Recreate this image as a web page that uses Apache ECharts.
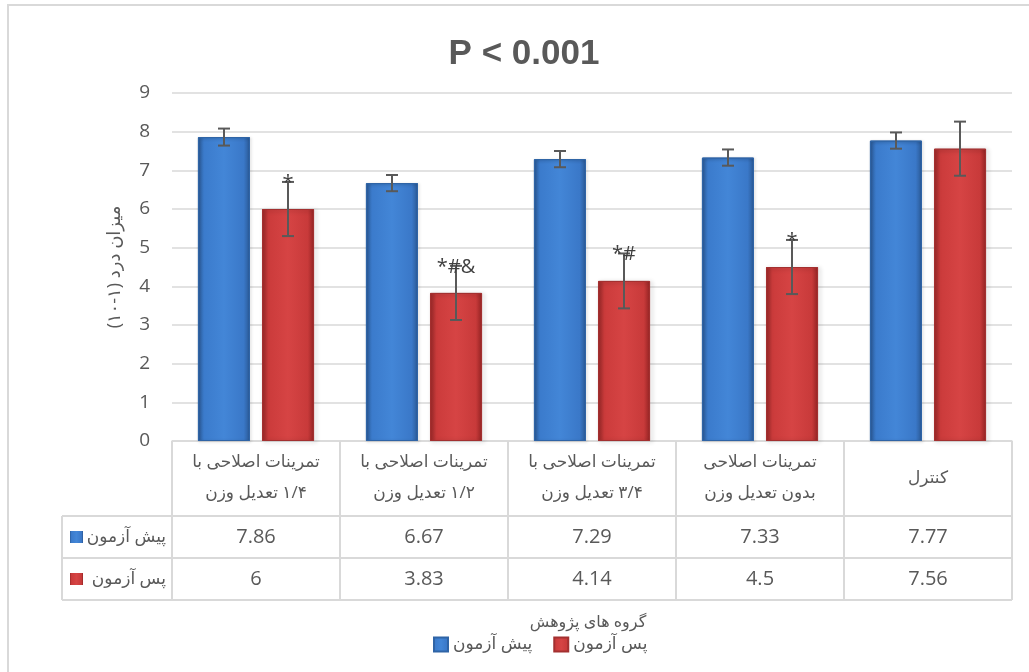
<!DOCTYPE html>
<html>
<head>
<meta charset="utf-8">
<script src="https://cdn.jsdelivr.net/npm/echarts@6/dist/echarts.min.js"></script>
<style>
html,body{margin:0;padding:0;background:#fff;}
#chart{width:1029px;height:672px;}
</style>
</head>
<body>
<div id="chart"></div>
<script>
// ---- data ----
const categories = [
  'تمرینات اصلاحی با\n۱/۴ تعدیل وزن',
  'تمرینات اصلاحی با\n۱/۲ تعدیل وزن',
  'تمرینات اصلاحی با\n۳/۴ تعدیل وزن',
  'تمرینات اصلاحی\nبدون تعدیل وزن',
  'کنترل'
];
const seriesNames = ['پیش آزمون', 'پس آزمون'];
const preValues = [7.86, 6.67, 7.29, 7.33, 7.77];
const postValues = [6, 3.83, 4.14, 4.5, 7.56];
const preErr = [0.22, 0.21, 0.21, 0.21, 0.21];
const postErr = [0.7, 0.7, 0.71, 0.7, 0.7];
const postMarks = ['*', '*#&', '*#', '*', ''];
const yTicks = [0, 1, 2, 3, 4, 5, 6, 7, 8, 9];
const titleText = 'P < 0.001';
const yAxisName = 'میزان درد (۱-۱۰)';
const xAxisName = 'گروه های پژوهش';

// ---- helpers ----
const RLE = '\u202B', PDF = '\u202C';
const rtl = s => s.split('\n').map(l => RLE + l + PDF).join('\n');
const FONT = '"Open Sans", "DejaVu Sans", sans-serif';
const TXT = '#595959';
const GRIDC = '#d9d9d9';

const blueGrad = new echarts.graphic.LinearGradient(0, 0, 1, 0, [
  {offset: 0, color: '#2b5c9a'}, {offset: 0.12, color: '#3b7bcc'},
  {offset: 0.5, color: '#4386d7'}, {offset: 0.88, color: '#3a78c8'},
  {offset: 1, color: '#2a5894'}
]);
const redGrad = new echarts.graphic.LinearGradient(0, 0, 1, 0, [
  {offset: 0, color: '#9a2828'}, {offset: 0.12, color: '#cb3b3b'},
  {offset: 0.5, color: '#d64444'}, {offset: 0.88, color: '#c83a3a'},
  {offset: 1, color: '#952424'}
]);
const OFFSET_FRAC = 0.1905; // bar-center offset as a fraction of the category band

function errRenderer(sign, marks) {
  return function (params, api) {
    const idx = api.value(0);
    const band = api.size([1, 0])[0];
    const cx = api.coord([idx, 0])[0] + sign * band * OFFSET_FRAC;
    const yLo = api.coord([idx, api.value(1)])[1];
    const yHi = api.coord([idx, api.value(2)])[1];
    const half = 6;
    const st = {stroke: '#595959', lineWidth: 2};
    const children = [
      {type: 'line', shape: {x1: cx, y1: yLo, x2: cx, y2: yHi}, style: st},
      {type: 'line', shape: {x1: cx - half, y1: yHi, x2: cx + half, y2: yHi}, style: st},
      {type: 'line', shape: {x1: cx - half, y1: yLo, x2: cx + half, y2: yLo}, style: st}
    ];
    if (marks && marks[idx]) {
      children.push({type: 'text', style: {
        x: cx, y: yHi + 1, text: marks[idx], align: 'center', verticalAlign: 'middle',
        fontSize: 20, fontFamily: FONT, fill: '#404040'
      }});
    }
    return {type: 'group', children: children};
  };
}

const chart = echarts.init(document.getElementById('chart'), null, {renderer: 'canvas'});

chart.setOption({
  animation: false,
  backgroundColor: '#fff',
  grid: {left: 172, right: 17, top: 93, bottom: 231, containLabel: false},
  legend: {
    data: seriesNames,
    left: 428, top: 631,
    itemWidth: 14, itemHeight: 14, itemGap: 21,
    icon: 'rect',
    formatter: n => rtl(n),
    textStyle: {fontSize: 17, color: TXT, fontFamily: FONT}
  },
  xAxis: {
    type: 'category',
    data: categories,
    axisLine: {show: true, lineStyle: {color: GRIDC, width: 1.5}},
    axisTick: {show: false},
    axisLabel: {
      interval: 0, formatter: v => rtl(v), verticalAlign: 'middle', margin: 37,
      lineHeight: 31, fontSize: 17, color: TXT, fontFamily: FONT
    }
  },
  yAxis: {
    type: 'value', min: yTicks[0], max: yTicks[yTicks.length - 1], interval: 1,
    name: rtl(yAxisName), nameLocation: 'middle', nameGap: 48, nameRotate: 90,
    nameTextStyle: {fontSize: 18, color: TXT, fontFamily: FONT},
    axisLine: {show: false}, axisTick: {show: false},
    axisLabel: {fontSize: 19, color: TXT, fontFamily: FONT, margin: 22},
    splitLine: {lineStyle: {color: GRIDC, width: 1.5}}
  },
  series: [
    {
      name: seriesNames[0], type: 'bar', data: preValues,
      barWidth: '31%', barGap: '23%',
      itemStyle: {color: blueGrad, borderColor: '#2f64a6', borderWidth: 1,
        shadowColor: 'rgba(0,0,0,0.25)', shadowBlur: 3, shadowOffsetX: 1, shadowOffsetY: 1}
    },
    {
      name: seriesNames[1], type: 'bar', data: postValues,
      barWidth: '31%', barGap: '23%',
      itemStyle: {color: redGrad, borderColor: '#a33030', borderWidth: 1,
        shadowColor: 'rgba(0,0,0,0.3)', shadowBlur: 4, shadowOffsetX: 2, shadowOffsetY: 1}
    },
    {
      type: 'custom', name: 'errPre', z: 5,
      renderItem: errRenderer(-1, null),
      data: preValues.map((v, i) => [i, v - preErr[i], v + preErr[i]])
    },
    {
      type: 'custom', name: 'errPost', z: 5,
      renderItem: errRenderer(1, postMarks),
      data: postValues.map((v, i) => [i, v - postErr[i], v + postErr[i]])
    }
  ]
});

// ---- data table and decorations (positions derived from the axes) ----
const HEADER_H = 75, ROW_H = 42, LABEL_LEFT = 62;
const c0 = chart.convertToPixel({xAxisIndex: 0}, 0);
const c1 = chart.convertToPixel({xAxisIndex: 0}, 1);
const band = c1 - c0;
const tableTop = chart.convertToPixel({yAxisIndex: 0}, 0);
const leftEdge = c0 - band / 2;
const rightEdge = leftEdge + band * categories.length;
const tableBottom = tableTop + HEADER_H + 2 * ROW_H;
const lineStyle = {stroke: GRIDC, lineWidth: 2};
const g = [];

// outer chart-area frame (left and top edges visible)
g.push({type: 'polyline', shape: {points: [[8, 700], [8, 5], [1100, 5]]}, style: {stroke: GRIDC, lineWidth: 2, fill: null}, silent: true});

// title
g.push({type: 'text', style: {x: 524, y: 54, text: titleText, align: 'center', verticalAlign: 'middle',
  fontSize: 35, fontWeight: 'bold', fontFamily: '"Liberation Sans", Arial, sans-serif', fill: TXT}});

// x axis name
g.push({type: 'text', style: {x: 588, y: 622, text: rtl(xAxisName), align: 'center', verticalAlign: 'middle',
  fontSize: 16, fontFamily: FONT, fill: TXT}});

// vertical lines
for (let k = 0; k <= categories.length; k++) {
  const x = leftEdge + k * band;
  g.push({type: 'line', shape: {x1: x, y1: tableTop, x2: x, y2: tableBottom}, style: lineStyle});
}
g.push({type: 'line', shape: {x1: LABEL_LEFT, y1: tableTop + HEADER_H, x2: LABEL_LEFT, y2: tableBottom}, style: lineStyle});
// horizontal lines
[tableTop + HEADER_H, tableTop + HEADER_H + ROW_H, tableBottom].forEach(y => {
  g.push({type: 'line', shape: {x1: LABEL_LEFT, y1: y, x2: rightEdge, y2: y}, style: lineStyle});
});

// rows
const rows = [
  {name: seriesNames[0], vals: preValues, grad: blueGrad},
  {name: seriesNames[1], vals: postValues, grad: redGrad}
];
rows.forEach((r, ri) => {
  const yc = tableTop + HEADER_H + ROW_H * ri + ROW_H / 2;
  g.push({type: 'rect', shape: {x: LABEL_LEFT + 8, y: yc - 6, width: 13, height: 12}, style: {fill: r.grad}});
  g.push({type: 'text', style: {x: LABEL_LEFT + 104, y: yc, text: rtl(r.name), align: 'right', verticalAlign: 'middle',
    fontSize: 17, fontFamily: FONT, fill: TXT}});
  r.vals.forEach((v, i) => {
    g.push({type: 'text', style: {x: c0 + i * band, y: yc, text: String(v), align: 'center', verticalAlign: 'middle',
      fontSize: 20, fontFamily: FONT, fill: TXT}});
  });
});

chart.setOption({graphic: {elements: g}});
</script>
</body>
</html>
